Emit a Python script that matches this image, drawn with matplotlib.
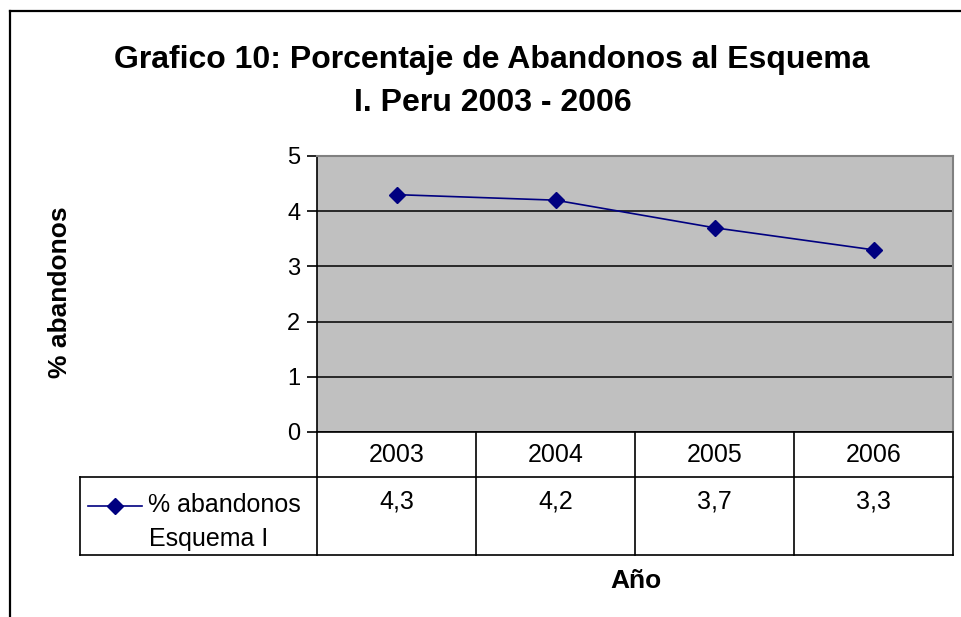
import numpy as np
import matplotlib.pyplot as plt
from matplotlib.lines import Line2D

plt.rcParams['font.family'] = ['Liberation Sans', 'DejaVu Sans']

years = ['2003', '2004', '2005', '2006']
abandonos = [4.3, 4.2, 3.7, 3.3]
value_labels = ['4,3', '4,2', '3,7', '3,3']

W, H = 961, 617
fig = plt.figure(figsize=(W / 100, H / 100), dpi=100)

# plot area in pixels
left, right, top, bottom = 317, 953, 156, 432
ax = fig.add_axes([left / W, (H - bottom) / H, (right - left) / W, (bottom - top) / H])
ax.set_facecolor('#c0c0c0')

x = np.arange(len(years))
ax.plot(x, abandonos, color='#000080', lw=1.2, marker='D', markersize=8)
ax.set_xlim(-0.5, len(years) - 0.5)
ax.set_ylim(0, 5)
ax.set_yticks(range(6))
ax.set_xticks([])
ax.tick_params(axis='y', direction='out', length=7, width=1.2, labelsize=17, pad=5)
ax.grid(axis='y', color='black', lw=1.1)
ax.set_axisbelow(True)
for s in ['top', 'right']:
    ax.spines[s].set_color('#808080')
    ax.spines[s].set_linewidth(1.5)
ax.spines['left'].set_linewidth(1.2)
ax.spines['bottom'].set_linewidth(1.2)

# data table below the plot (axes fraction coords)
ph = bottom - top
pw = right - left
row1 = (bottom - 477) / ph
row2 = (bottom - 555) / ph
leg_left = (80 - left) / pw
tr = ax.transAxes
lk = dict(color='black', lw=1.2, transform=tr, clip_on=False)
ax.add_line(Line2D([leg_left, 1], [row1, row1], **lk))
ax.add_line(Line2D([leg_left, 1], [row2, row2], **lk))
ax.add_line(Line2D([leg_left, leg_left], [row1, row2], **lk))
for i in range(len(years) + 1):
    xf = i / len(years)
    ax.add_line(Line2D([xf, xf], [0, row2], **lk))
for i, (yr, v) in enumerate(zip(years, value_labels)):
    xc = (i + 0.5) / len(years)
    ax.text(xc, (bottom - 455) / ph, yr, transform=tr, ha='center', va='center', fontsize=18)
    ax.text(xc, (bottom - 502) / ph, v, transform=tr, ha='center', va='center', fontsize=18)

# legend key inside the table
ly = (bottom - 506) / ph
ax.add_line(Line2D([(88 - left) / pw, (142 - left) / pw], [ly, ly], color='#000080', lw=1.2,
                   transform=tr, clip_on=False))
ax.add_line(Line2D([(115 - left) / pw], [ly], color='#000080', marker='D', markersize=8,
                   transform=tr, clip_on=False))
ax.text((148 - left) / pw, (bottom - 505) / ph, '% abandonos', transform=tr, ha='left', va='center', fontsize=18)
ax.text((149 - left) / pw, (bottom - 539) / ph, 'Esquema I', transform=tr, ha='left', va='center', fontsize=18)

ax.text((636 - left) / pw, (bottom - 581) / ph, 'Año', transform=tr, ha='center', va='center',
        fontsize=19, fontweight='bold')
fig.text(60 / W, 1 - 292 / H, '% abandonos', rotation=90, ha='center', va='center',
         fontsize=19, fontweight='bold')

fig.text(492 / W, 1 - 60 / H, 'Grafico 10: Porcentaje de Abandonos al Esquema',
         ha='center', va='center', fontsize=23, fontweight='bold')
fig.text(493 / W, 1 - 103 / H, 'I. Peru 2003 - 2006',
         ha='center', va='center', fontsize=23, fontweight='bold')

# outer frame (left and top edges visible)
fig.add_artist(Line2D([10 / W, 10 / W], [0, 1 - 11 / H], color='black', lw=1.6, transform=fig.transFigure))
fig.add_artist(Line2D([10 / W, 1], [1 - 11 / H, 1 - 11 / H], color='black', lw=1.6, transform=fig.transFigure))

fig.savefig('out.png', dpi=100)
